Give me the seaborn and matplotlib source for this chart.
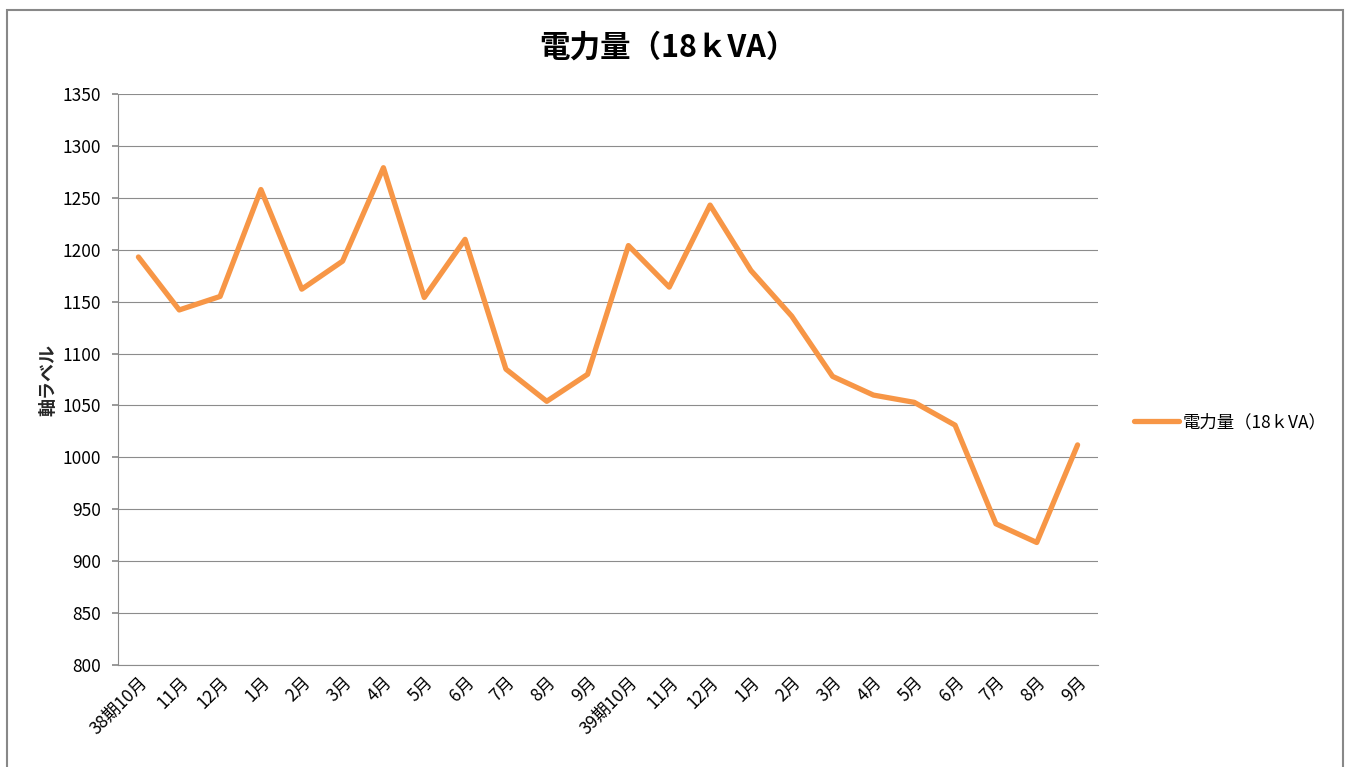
import matplotlib
matplotlib.use("Agg")
import matplotlib.pyplot as plt
import seaborn as sns
import pandas as pd
from matplotlib.patches import Rectangle

# data
months = ["38期10月", "11月", "12月", "1月", "2月", "3月", "4月", "5月", "6月",
          "7月", "8月", "9月", "39期10月", "11月", "12月", "1月", "2月", "3月",
          "4月", "5月", "6月", "7月", "8月", "9月"]
power = [1193, 1142, 1155, 1258, 1162, 1189, 1279, 1154, 1210, 1085, 1054, 1080,
         1204, 1164, 1243, 1180, 1136, 1078, 1060, 1053, 1031, 936, 918, 1012]
series_name = "電力量（18ｋVA）"

sns.set_theme(style="white")
plt.rcParams['font.family'] = ['Noto Sans CJK JP', 'DejaVu Sans']
plt.rcParams['text.color'] = "black"
plt.rcParams['xtick.color'] = "black"
plt.rcParams['ytick.color'] = "black"

df = pd.DataFrame({"idx": range(len(months)), "value": power})

fig = plt.figure(figsize=(13.49, 7.67), dpi=100)
ax = fig.add_axes([118 / 1349, 1 - 665 / 767, 980 / 1349, 571 / 767])

sns.lineplot(data=df, x="idx", y="value", ax=ax, color="#F79646",
             linewidth=3.8, label=series_name, solid_capstyle="round")

ax.set_xlim(-0.5, len(months) - 0.5)
ax.set_ylim(800, 1350)
ax.set_yticks(range(800, 1351, 50))
ax.set_xticks(range(len(months)))
ax.set_xticklabels(months, rotation=45, ha="right", rotation_mode="anchor",
                   fontsize=12.5)
ax.tick_params(axis="y", labelsize=12.5, length=4, color="#8c8c8c", left=True,
               pad=8)
ax.tick_params(axis="x", length=0, pad=6)
ax.grid(axis="y", color="#8c8c8c", linewidth=0.8)
ax.set_axisbelow(True)
for side in ["top", "right"]:
    ax.spines[side].set_visible(False)
for side in ["left", "bottom"]:
    ax.spines[side].set_color("#8c8c8c")
    ax.spines[side].set_linewidth(0.8)

ax.set_xlabel("")
ax.set_ylabel("軸ラベル", fontsize=13, fontweight="bold", labelpad=4)
fig.text(668 / 1349, 1 - 48 / 767, series_name, fontsize=22,
         fontweight="bold", ha="center", va="center")

ax.legend_.remove()
handles, labels = ax.get_legend_handles_labels()
fig.legend(handles, labels, loc="center left",
           bbox_to_anchor=(1118 / 1349, 1 - 422 / 767), frameon=False,
           fontsize=12.5, handlelength=2.6, handletextpad=0.2)

# chart frame
fig.patches.append(Rectangle((7 / 1349, -0.05), 1336 / 1349, 1.05 - 10 / 767,
                             transform=fig.transFigure, fill=False,
                             edgecolor="#888888", linewidth=1.5))

fig.savefig("out.png", dpi=100)
